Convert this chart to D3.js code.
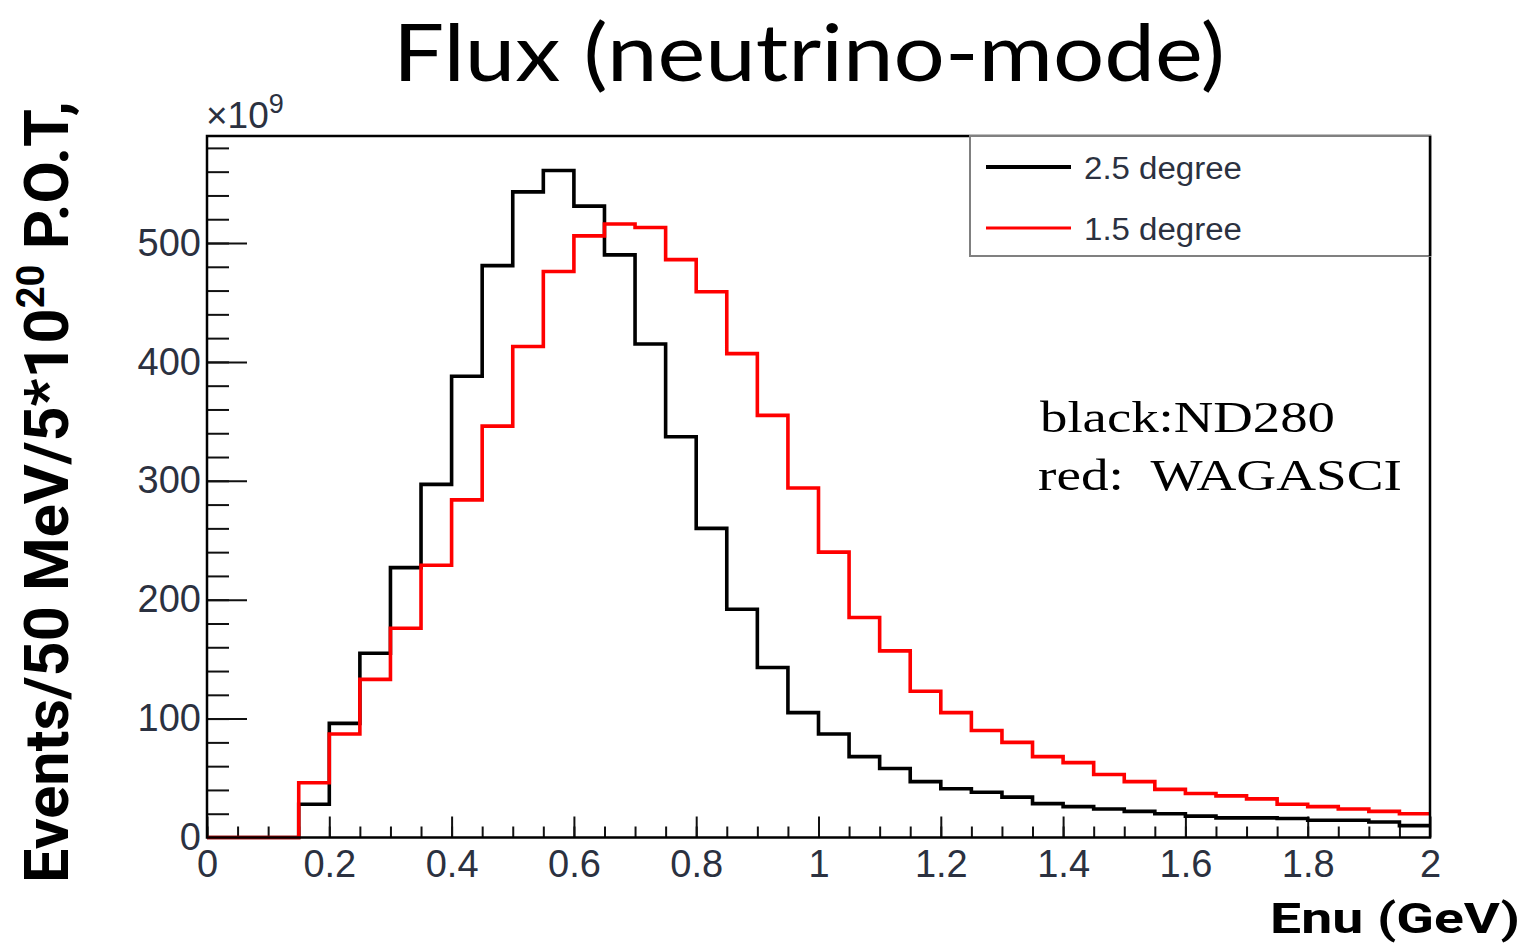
<!DOCTYPE html>
<html>
<head>
<meta charset="utf-8">
<script src="https://cdn.jsdelivr.net/npm/d3@7"></script>
<style>
  body { margin: 0; background: #fff; }
  svg { display: block; }
</style>
</head>
<body>
<div id="chart"></div>
<script>
// Flux per 50 MeV bin (x10^9), bins from 0 to 2 GeV
const binWidth = 0.05;
const deg25 = [0, 0, 0, 28, 96, 155, 227, 297, 388, 481, 543, 561, 531, 490, 415, 337, 260, 192, 143, 105,
               87, 68, 58, 47, 41, 38, 34, 28.5, 26, 24, 22, 20, 18, 16.5, 16.5, 16, 14.5, 14.5, 13, 10];
const deg15 = [0, 0, 0, 46, 87, 133, 176, 229, 284, 346, 413, 476, 506, 516, 513, 486, 459, 407, 355, 294,
               240, 185, 157, 123, 105, 90, 80, 68, 63, 53, 47, 40.5, 37, 35, 32.5, 28, 26, 24, 22, 20];
const xTicks = [0, 0.2, 0.4, 0.6, 0.8, 1, 1.2, 1.4, 1.6, 1.8, 2];
const yTicks = [0, 100, 200, 300, 400, 500];
const seriesNames = ["2.5 degree", "1.5 degree"];
const seriesColors = ["#000000", "#ff0000"];

const width = 1531, height = 945;
const margin = { top: 136, right: 101, bottom: 107.5, left: 207 };

const svg = d3.select("#chart").append("svg")
  .attr("width", width)
  .attr("height", height);

const x = d3.scaleLinear()
  .domain([0, 2])
  .range([margin.left, width - margin.right]);

const y = d3.scaleLinear()
  .domain([0, 590])
  .range([height - margin.bottom, margin.top]);

const tickFont = "'Liberation Sans', Arial, sans-serif";
const tickColor = "#2b3140";

// minor ticks first
svg.append("g")
  .attr("transform", `translate(${margin.left},0)`)
  .call(d3.axisLeft(y).tickValues(d3.range(0, 590, 20)).tickSizeInner(-22).tickSizeOuter(0).tickFormat(""))
  .call(g => g.select(".domain").remove());

svg.append("g")
  .attr("transform", `translate(0,${height - margin.bottom})`)
  .call(d3.axisBottom(x).tickValues(d3.range(0, 40).map(i => i * binWidth)).tickSizeInner(-11).tickSizeOuter(0).tickFormat(""))
  .call(g => g.select(".domain").remove());

// Y axis
svg.append("g")
  .attr("transform", `translate(${margin.left},0)`)
  .call(d3.axisLeft(y).tickValues(yTicks).tickSizeInner(-40).tickSizeOuter(0).tickPadding(6))
  .call(g => g.select(".domain").remove())
  .call(g => g.selectAll("text")
    .attr("font-family", tickFont)
    .attr("font-size", 38)
    .attr("fill", tickColor));

// X axis
svg.append("g")
  .attr("transform", `translate(0,${height - margin.bottom})`)
  .call(d3.axisBottom(x).tickValues(xTicks).tickSizeInner(-21).tickSizeOuter(0).tickPadding(13)
    .tickFormat(d => d3.format("")(+d.toFixed(1))))
  .call(g => g.select(".domain").remove())
  .call(g => g.selectAll("text")
    .attr("font-family", tickFont)
    .attr("font-size", 38)
    .attr("fill", tickColor));

svg.selectAll(".tick line")
  .attr("stroke", "#111")
  .attr("stroke-width", 2);

// Histograms
const lineGen = d3.line()
  .x(d => x(d[0]))
  .y(d => y(d[1]))
  .curve(d3.curveStepAfter);

[deg25, deg15].forEach((vals, k) => {
  const pts = vals.map((v, i) => [i * binWidth, v]);
  pts.push([2, vals[vals.length - 1]]);
  svg.append("path")
    .datum(pts)
    .attr("fill", "none")
    .attr("stroke", seriesColors[k])
    .attr("stroke-width", 3.6)
    .attr("stroke-linejoin", "miter")
    .attr("d", lineGen);
});

// Frame
svg.append("rect")
  .attr("x", margin.left)
  .attr("y", margin.top)
  .attr("width", x(2) - margin.left)
  .attr("height", y(0) - margin.top)
  .attr("fill", "none")
  .attr("stroke", "#000")
  .attr("stroke-width", 2.5);

// x10^9 label
const expo = svg.append("text")
  .attr("x", 206)
  .attr("y", 128)
  .attr("font-family", tickFont)
  .attr("font-size", 37)
  .attr("fill", tickColor);
expo.append("tspan").text("\u00d710");
expo.append("tspan").attr("font-size", 27).attr("dy", -15).text("9");

// Legend
svg.append("rect")
  .attr("x", 970)
  .attr("y", margin.top)
  .attr("width", x(2) - 970)
  .attr("height", 120)
  .attr("fill", "#fff")
  .attr("stroke", "#808080")
  .attr("stroke-width", 2);
svg.append("line")
  .attr("x1", x(2)).attr("x2", x(2))
  .attr("y1", margin.top).attr("y2", margin.top + 120)
  .attr("stroke", "#000").attr("stroke-width", 2.5);

const legendY = [167, 228];
seriesNames.forEach((name, k) => {
  svg.append("line")
    .attr("x1", 986).attr("x2", 1071)
    .attr("y1", legendY[k]).attr("y2", legendY[k])
    .attr("stroke", seriesColors[k])
    .attr("stroke-width", k === 0 ? 4 : 3);
  svg.append("text")
    .attr("x", 1084)
    .attr("y", legendY[k] + 12)
    .attr("font-family", tickFont)
    .attr("font-size", 31)
    .attr("fill", tickColor)
    .attr("textLength", 158)
    .attr("lengthAdjust", "spacingAndGlyphs")
    .text(name);
});

// Annotation
const serif = "'Liberation Serif', 'DejaVu Serif', serif";
svg.append("text")
  .attr("x", 1040).attr("y", 432)
  .attr("font-family", serif).attr("font-size", 45)
  .attr("textLength", 295).attr("lengthAdjust", "spacingAndGlyphs")
  .text("black:ND280");
svg.append("text")
  .attr("x", 1038).attr("y", 490)
  .attr("font-family", serif).attr("font-size", 45)
  .attr("textLength", 364).attr("lengthAdjust", "spacingAndGlyphs")
  .text("red:\u00a0 WAGASCI");

// Title
svg.append("text")
  .attr("x", 393).attr("y", 81)
  .attr("font-family", "Lato, 'Open Sans', sans-serif")
  .attr("font-size", 80)
  .attr("fill", "#000")
  .attr("textLength", 832).attr("lengthAdjust", "spacingAndGlyphs")
  .text("Flux (neutrino-mode)");

// X title
svg.append("text")
  .attr("x", 1270).attr("y", 933)
  .attr("font-family", "Roboto, 'Liberation Sans', sans-serif")
  .attr("font-weight", 700)
  .attr("font-size", 42)
  .attr("textLength", 250).attr("lengthAdjust", "spacingAndGlyphs")
  .text("Enu (GeV)");

// Y title (rotated, squeezed to fit)
const yt = svg.append("text")
  .attr("font-family", "Roboto, 'Liberation Sans', sans-serif")
  .attr("font-weight", 700)
  .attr("font-size", 61)
  .attr("fill", "#000");
yt.append("tspan").text("Events/50 MeV/5*10");
yt.append("tspan").attr("font-size", 38).attr("dy", -24).text("20");
yt.append("tspan").attr("dy", 24).text(" P.O.T,");
const natural = yt.node().getComputedTextLength();
const k = 782 / natural;
yt.attr("transform", `translate(68,883) rotate(-90) scale(${k},1)`);
</script>
</body>
</html>
